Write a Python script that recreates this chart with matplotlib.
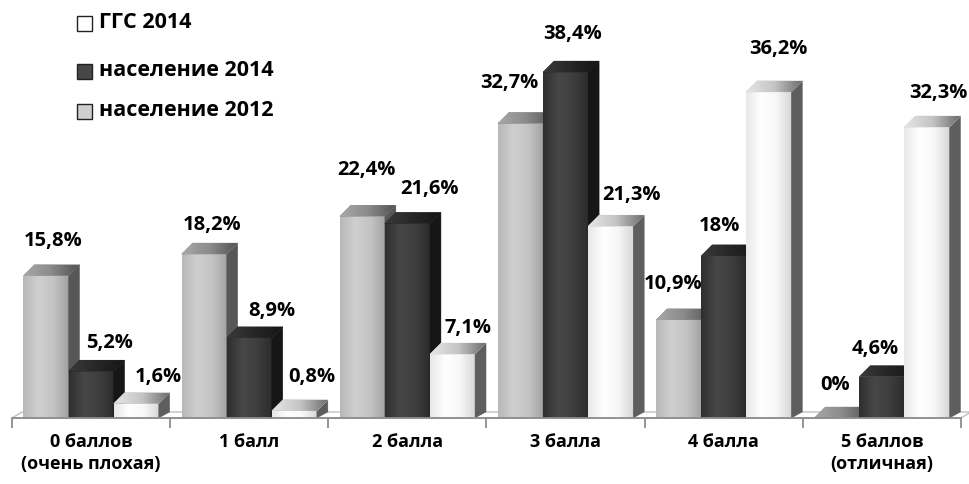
import matplotlib
matplotlib.use('Agg')
import matplotlib.pyplot as plt
from matplotlib.patches import Polygon, Rectangle
from matplotlib.colors import LinearSegmentedColormap
import numpy as np

# ---------------- data ----------------
categories = ['0 баллов\n(очень плохая)', '1 балл', '2 балла', '3 балла',
              '4 балла', '5 баллов\n(отличная)']
series_names = ['население 2012', 'население 2014', 'ГГС 2014']
pop2012 = [15.8, 18.2, 22.4, 32.7, 10.9, 0.0]
pop2014 = [5.2, 8.9, 21.6, 38.4, 18.0, 4.6]
ggs2014 = [1.6, 0.8, 7.1, 21.3, 36.2, 32.3]

# label offsets in pixels (dx right, dy up) relative to bar front centre/top
label_off_2012 = [(7.5, 34.5), (8, 29.5), (4, 46), (-11, 40.5), (-6, 35.5), (-2, 32.5)]
label_off_2014 = [(18.5, 28.5), (22.5, 26.5), (22, 34), (7, 38.3), (-4, 30), (-7, 27.5)]
label_off_ggs = [(22.5, 27), (17, 33.5), (15.5, 26.5), (20.5, 31.5), (9.5, 42.5), (11, 34.5)]

# ---------------- style ----------------
FONT = ['Open Sans', 'DejaVu Sans']
plt.rcParams['font.family'] = FONT
W, H, DPI = 9.69, 4.84, 100
fig = plt.figure(figsize=(W, H), dpi=DPI)
ax_rect = [12 / 969, (484 - 418) / 484, 949 / 969, 418 / 484]
ax = fig.add_axes(ax_rect)
XLIM = (-0.5, 5.5)
YLIM = (0, 46.4)

px_x = ax_rect[2] * W * DPI / (XLIM[1] - XLIM[0])
px_y = ax_rect[3] * H * DPI / (YLIM[1] - YLIM[0])

DEPTH_PX = (11, 11)
ddx = DEPTH_PX[0] / px_x
ddy = DEPTH_PX[1] / px_y
FLOOR_PX = (10, 6)

bar_w = 0.285
offsets = [-0.285, 0.0, 0.285]

styles = [
    dict(front=['#b8b8b8', '#cfcfcf', '#c4c4c4', '#a2a2a2'], side='#575757',
         top=['#a8a8a8', '#8a8a8a', '#505050']),
    dict(front=['#2f2f2f', '#474747', '#3e3e3e', '#2b2b2b'], side='#161616',
         top=['#3a3a3a', '#262626', '#151515']),
    dict(front=['#e8e8e8', '#ffffff', '#f7f7f7', '#d6d6d6'], side='#5e5e5e',
         top=['#e6e6e6', '#c4c4c4', '#6a6a6a']),
]
series_vals = [pop2012, pop2014, ggs2014]
label_offs = [label_off_2012, label_off_2014, label_off_ggs]

# floor
x0f, x1f = XLIM
floor = Polygon([(x0f, 0), (x1f, 0), (x1f + FLOOR_PX[0] / px_x, FLOOR_PX[1] / px_y),
                 (x0f + FLOOR_PX[0] / px_x, FLOOR_PX[1] / px_y)], closed=True,
                facecolor='white', edgecolor='#bfbfbf', lw=1.0, zorder=1, clip_on=False)
ax.add_patch(floor)

grad = np.linspace(0, 1, 64).reshape(1, -1)


def fmt(v):
    return ('%g' % v).replace('.', ',') + '%'


z = 2.0
for i in range(len(categories)):
    for s in range(3):
        v = series_vals[s][i]
        st = styles[s]
        xc = i + offsets[s]
        xa, xb = xc - bar_w / 2, xc + bar_w / 2
        # front face (bar) with gradient
        bars = ax.bar([xc], [v], width=bar_w, color=st['front'][1], lw=0, zorder=z)
        rect = bars[0]
        cmap = LinearSegmentedColormap.from_list('g%d' % s, st['front'])
        im = ax.imshow(grad, extent=(xa, xb, 0, max(v, 1e-6)), cmap=cmap,
                       aspect='auto', zorder=z + 0.001, interpolation='bicubic')
        im.set_clip_path(rect)
        # side face
        side = Polygon([(xb, 0), (xb + ddx, ddy * 0.55), (xb + ddx, v + ddy), (xb, v)],
                       closed=True, facecolor=st['side'], edgecolor=st['side'], lw=0.3,
                       zorder=z + 0.002)
        ax.add_patch(side)
        # top face (bevelled cap approximated by a parallelogram with gradient)
        top = Polygon([(xa, v), (xb, v), (xb + ddx, v + ddy), (xa + ddx, v + ddy)],
                      closed=True, facecolor=st['top'][1], edgecolor=st['top'][1], lw=0.3,
                      zorder=z + 0.003)
        ax.add_patch(top)
        tcmap = LinearSegmentedColormap.from_list('t%d' % s, st['top'])
        tim = ax.imshow(grad, extent=(xa, xb + ddx, v, v + ddy), cmap=tcmap,
                        aspect='auto', zorder=z + 0.004, interpolation='bicubic')
        tim.set_clip_path(top)
        z += 0.01
        # label
        odx, ody = label_offs[s][i]
        ax.annotate(fmt(v), xy=(xc, v), xytext=(odx * 72 / DPI, ody * 72 / DPI),
                    textcoords='offset points', ha='center', va='center',
                    fontsize=14.5, fontweight='bold', color='black', zorder=10,
                    annotation_clip=False)

ax.set_xlim(*XLIM)
ax.set_ylim(*YLIM)
ax.set_aspect('auto')

for sp in ['top', 'right', 'left']:
    ax.spines[sp].set_visible(False)
ax.spines['bottom'].set_color('#8c8c8c')
ax.spines['bottom'].set_linewidth(1.3)
ax.set_yticks([])
ax.set_xticks(np.arange(XLIM[0], XLIM[1] + 0.01, 1.0))
ax.set_xticklabels([])
ax.tick_params(axis='x', which='major', length=7, width=1.3, color='#8c8c8c', direction='out')
ax.set_xticks(np.arange(len(categories)), minor=True)
ax.set_xticklabels(categories, minor=True, fontsize=13, fontweight='bold', linespacing=1.25)
ax.tick_params(axis='x', which='minor', length=0, pad=11)

# legend (manual)
leg_items = [('ГГС 2014', styles[2]['front'][1]),
             ('население 2014', styles[1]['front'][1]),
             ('население 2012', styles[0]['front'][1])]
leg_y_px = [23, 71, 111]
for (name, col), ypx in zip(leg_items, leg_y_px):
    sq = 15
    fig.patches.append(Rectangle((77 / 969, (484 - ypx - sq / 2) / 484), sq / 969, sq / 484,
                                 transform=fig.transFigure, facecolor=col,
                                 edgecolor='#222222', lw=1.0))
    fig.text(99 / 969, (484 - ypx) / 484, name, ha='left', va='center',
             fontsize=15.5, fontweight='bold', color='black')

fig.savefig('out.png', dpi=DPI, facecolor='white')
